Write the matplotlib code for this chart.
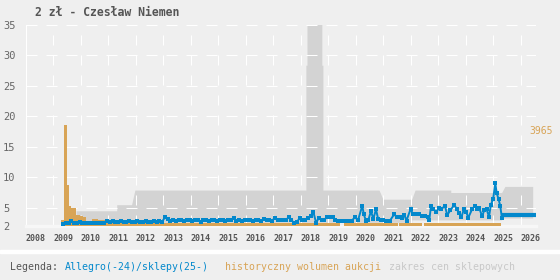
import numpy as np
import matplotlib.pyplot as plt
from matplotlib.patches import Rectangle

# Allegro prices: regular 0.1-year grid from 2009.35, then hand-read points after 2019.4
blue_early_start = 2009.35
blue_early = [
    2.3, 2.55, 2.5, 2.75, 2.55, 2.5, 2.6, 2.5, 2.55, 2.5,
    2.5, 2.55, 2.5, 2.5, 2.55, 2.5, 2.85, 2.7, 2.75, 2.7,
    2.7, 2.75, 2.65, 2.7, 2.8, 2.7, 2.65, 2.75, 2.7, 2.7,
    2.8, 2.7, 2.65, 2.75, 2.7, 2.8, 2.7, 3.4, 3.1, 2.9,
    2.95, 2.9, 3.0, 2.95, 2.9, 3.0, 2.95, 2.9, 2.95, 3.0,
    2.6, 2.95, 3.0, 2.9, 2.95, 3.0, 2.9, 2.95, 3.0, 2.9,
    2.95, 3.0, 3.35, 2.9, 2.95, 2.9, 3.0, 2.95, 3.0, 2.9,
    2.95, 3.0, 2.9, 3.1, 2.95, 3.0, 2.9, 3.3, 2.95, 3.0,
    2.95, 3.0, 3.4, 2.95, 2.55, 2.6, 3.3, 3.0, 3.0, 3.25,
    3.6, 4.35, 2.55, 3.3, 3.0, 3.0, 3.5, 3.5, 3.5, 3.0,
    2.9,
]
blue_late_x = [2019.45, 2019.55, 2019.65, 2019.75, 2019.85, 2019.96, 2020.08, 2020.23, 2020.29,
               2020.36, 2020.45, 2020.55, 2020.63, 2020.73, 2020.81, 2020.90, 2020.99, 2021.11,
               2021.24, 2021.39, 2021.50, 2021.60, 2021.68, 2021.76, 2021.84, 2021.99, 2022.08,
               2022.18, 2022.28, 2022.39, 2022.51, 2022.61, 2022.67, 2022.73, 2022.81, 2022.93,
               2023.02, 2023.11, 2023.24, 2023.32, 2023.44, 2023.58, 2023.66, 2023.75, 2023.84,
               2023.93, 2024.02, 2024.08, 2024.23, 2024.33, 2024.41, 2024.48, 2024.59, 2024.67,
               2024.75, 2024.84, 2024.91, 2024.99, 2025.07, 2025.12, 2025.19, 2025.25, 2025.31]
blue_late_y = [2.9, 2.9, 2.9, 2.9, 2.9, 3.4, 3.0, 5.3, 3.9,
               2.9, 2.95, 4.5, 3.1, 4.75, 3.1, 3.0, 3.05, 2.9,
               2.9, 3.9, 3.4, 3.4, 3.3, 3.8, 2.9, 4.8, 3.9,
               4.0, 3.9, 3.7, 3.7, 3.4, 3.0, 5.3, 4.8, 4.3,
               5.0, 4.8, 5.3, 3.8, 4.6, 5.5, 4.8, 4.1, 3.5,
               4.8, 4.3, 3.3, 4.8, 5.3, 4.8, 5.0, 3.6, 4.6,
               4.8, 3.5, 5.5, 6.4, 9.0, 7.4, 6.4, 5.3, 3.3]
# shop price (flat tail)
shop_x = [2025.38, 2025.5, 2025.6, 2025.7, 2025.8, 2025.9, 2026.0, 2026.1, 2026.2, 2026.3, 2026.47]
shop_y = [3.76, 3.76, 3.76, 3.76, 3.76, 3.76, 3.76, 3.76, 3.76, 3.76, 3.76]

# shop price range band
band_x = [2009.82, 2011.30, 2011.30, 2011.84, 2011.96, 2018.18, 2018.18, 2018.22, 2018.22,
          2018.76, 2018.76, 2018.80, 2018.80, 2020.84, 2020.90, 2020.98, 2022.03, 2022.03,
          2022.15, 2023.45, 2023.45, 2025.30, 2025.30, 2025.42, 2026.43]
band_hi = [4.5, 4.5, 5.5, 5.5, 7.9, 7.9, 28.4, 28.4, 36.0,
           36.0, 28.4, 28.4, 7.9, 7.9, 7.3, 6.4, 6.4, 6.4,
           7.9, 7.9, 7.5, 7.5, 7.5, 8.5, 8.5]
band_lo = [2.6, 2.6, 2.6, 2.6, 2.6, 2.6, 2.6, 2.6, 2.6,
           2.6, 2.6, 2.6, 2.6, 2.6, 2.6, 2.6, 2.6, 3.0,
           3.0, 3.0, 3.0, 3.0, 3.3, 3.3, 3.3]

# auction volume bars (left, right, top) in price units
vol_left = [2009.27, 2009.38, 2009.49, 2009.56, 2009.64, 2009.82, 2009.96, 2010.08, 2010.20,
            2010.39, 2010.63, 2010.87, 2011.12, 2011.30, 2019.55, 2021.56, 2022.47]
vol_right = [2009.38, 2009.49, 2009.56, 2009.64, 2009.82, 2009.96, 2010.08, 2010.20, 2010.39,
             2010.63, 2010.87, 2011.12, 2011.30, 2019.42, 2021.52, 2022.41, 2025.27]
vol_top = [3.0, 18.6, 8.75, 5.3, 5.0, 3.8, 3.7, 3.4, 2.85,
           3.15, 2.95, 3.0, 2.75, 2.45, 2.45, 2.45, 2.45]

years = list(range(2008, 2027))
yticks = [2, 5, 10, 15, 20, 25, 30, 35]

BG = '#efefef'
BLUE = '#0388cc'
ORANGE = '#d8a456'
GRAY = '#d3d3d3'
TXT = '#555555'

fig = plt.figure(figsize=(5.6, 2.8), dpi=100, facecolor=BG)
ax = fig.add_axes([26/560, 54/280, 510/560, 201/280])
ax.set_facecolor(BG)
ax.set_xlim(2008, 2026.55)
ax.set_ylim(2, 35)

ax.fill_between(band_x, band_lo, band_hi, color=GRAY, lw=0, zorder=1)

for y in yticks[1:]:
    ax.axhline(y, color='white', lw=0.72, ls=(0, (11, 9)), zorder=2)
for yr in years[1:]:
    ax.axvline(yr, color='white', lw=0.72, ls=(19, (10, 10)), zorder=2)

widths = [r - l for l, r in zip(vol_left, vol_right)]
heights = [t - 2 for t in vol_top]
ax.bar(vol_left, heights, width=widths, bottom=2, align='edge', color=ORANGE, lw=0, zorder=3)

early_x = blue_early_start + 0.1 * np.arange(len(blue_early))
bx = list(early_x) + blue_late_x
by = blue_early + blue_late_y
ax.plot(bx, by, color=BLUE, lw=1.4, marker='s', ms=2.8, mew=0, zorder=4)
ax.plot(shop_x, shop_y, color=BLUE, lw=3.0, marker='s', ms=2.8, mew=0, zorder=4)

for s in ['top', 'right']:
    ax.spines[s].set_visible(False)
ax.spines['left'].set_color('white')
ax.spines['left'].set_linewidth(0.8)
ax.spines['bottom'].set_color('#f7f7f7')
ax.spines['bottom'].set_linewidth(2.5)

ax.set_xticks(years)
ax.set_xticklabels([str(y) for y in years], family='DejaVu Sans Mono', fontsize=6,
                   color=TXT, fontweight='bold')
for lab in ax.get_xticklabels():
    lab.set_horizontalalignment('left')
ax.set_yticks(yticks)
ax.set_yticklabels([str(y) for y in yticks], family='DejaVu Sans Mono', fontsize=7.5, color='#666666')
for lab in ax.get_yticklabels():
    lab.set_horizontalalignment('left')
ax.tick_params(axis='x', length=0, pad=6)
ax.tick_params(axis='y', length=0, pad=16.5)

fig.text(35/560, 1 - 12/280, '2 zł - Czesław Niemen', family='DejaVu Sans Mono', fontsize=8.3,
         fontweight='bold', color=TXT, va='center', ha='left')
fig.text(553/560, 1 - 131/280, '3965', family='DejaVu Sans Mono', fontsize=7, color=ORANGE,
         va='center', ha='right')

fig.patches.append(Rectangle((0, 27/280), 1, 3/280, transform=fig.transFigure,
                             color='white', zorder=0))
ly = 1 - 267/280
fig.text(10/560, ly, 'Legenda:', family='DejaVu Sans Mono', fontsize=7.1, color=TXT, va='center')
fig.text(65/560, ly, 'Allegro(-24)/sklepy(25-)', family='DejaVu Sans Mono', fontsize=7.1,
         color=BLUE, va='center')
fig.text(225/560, ly, 'historyczny wolumen aukcji', family='DejaVu Sans Mono', fontsize=7.1,
         color=ORANGE, va='center')
fig.text(389/560, ly, 'zakres cen sklepowych', family='DejaVu Sans Mono', fontsize=7.1,
         color='#c8c8c8', va='center')

fig.savefig('out.png', dpi=100, facecolor=BG)
